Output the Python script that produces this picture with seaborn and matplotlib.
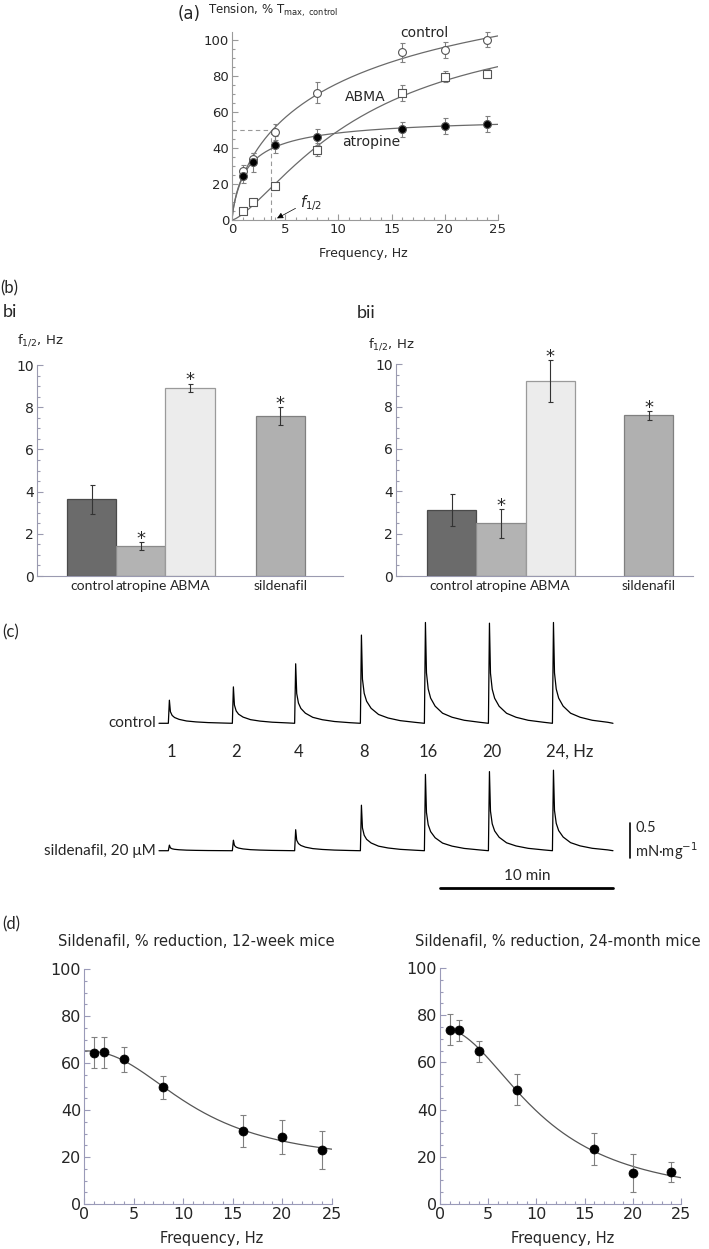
import numpy as np
import seaborn as sns
import matplotlib.pyplot as plt
from matplotlib.ticker import MultipleLocator, FixedLocator

W, H = 709, 1249

# (a) tension vs frequency, % of control max
FREQ = [1, 2, 4, 8, 16, 20, 24]
CONTROL = [27, 34, 48.8, 70.5, 93, 94.3, 100]
CONTROL_ERR = [3.5, 3, 4.6, 5.8, 5.2, 4.4, 4.2]
ABMA = [5.2, 9.8, 19, 39, 70.5, 79.6, 81]
ABMA_ERR = [1, 1.2, 1.5, 3.5, 4.3, 3, 2.5]
ATROPINE = [24.3, 31.9, 41.8, 46, 50.3, 52.1, 53.4]
ATROPINE_ERR = [4, 5.5, 4.6, 4.4, 4.2, 4.4, 4.4]
F_HALF = 3.65

# (b) f1/2 values
BAR_LABELS = ['control', 'atropine', 'ABMA', 'sildenafil']
BI_VALUES = [3.64, 1.41, 8.91, 7.59]
BI_ERR = [0.69, 0.2, 0.21, 0.41]
BII_VALUES = [3.10, 2.48, 9.20, 7.58]
BII_ERR = [0.76, 0.69, 1.0, 0.22]
BI_STAR = [False, True, True, True]
BII_STAR = [False, True, True, True]

# (c) contraction traces
TRAIN_LABELS = ['1', '2', '4', '8', '16', '20', '24, Hz']
TRAIN_ONSET = [0, 3.7, 7.3, 11.1, 14.8, 18.5, 22.2]          # min
CONTROL_PEAK = [0.33, 0.52, 0.85, 1.26, 1.44, 1.43, 1.44]     # mN/mg
SILD_PEAK = [0.08, 0.15, 0.30, 0.65, 1.09, 1.13, 1.15]
DECAY_T = [0, 0.06, 0.12, 0.22, 0.36, 0.62, 1.05, 1.6, 2.3, 3.2]
DECAY_F = [0, 1.0, 0.5, 0.34, 0.25, 0.17, 0.1, 0.06, 0.03, 0.01]

# (d) % reduction by sildenafil
RED_12W = [64.4, 64.5, 61.5, 49.6, 31.1, 28.4, 22.8]
RED_12W_ERR = [6.7, 6.5, 5.5, 4.9, 6.9, 7.3, 8.1]
RED_24M = [73.9, 73.6, 64.7, 48.4, 23.3, 13.1, 13.6]
RED_24M_ERR = [6.6, 4.5, 4.4, 6.6, 6.6, 8.2, 4.1]


def hill_rise(f, y):
    f = np.asarray(f, float)
    y = np.asarray(y, float)
    best = (np.inf, None)
    for k in np.linspace(0.2, 30, 299):
        for n in np.linspace(0.4, 3, 53):
            g = f ** n / (f ** n + k ** n)
            a = g @ y / (g @ g)
            err = np.sum((a * g - y) ** 2)
            if err < best[0]:
                best = (err, (a, k, n))
    a, k, n = best[1]
    return lambda x: a * x ** n / (x ** n + k ** n)


def hill_fall(f, y):
    f = np.asarray(f, float)
    y = np.asarray(y, float)
    best = (np.inf, None)
    for k in np.linspace(1, 30, 146):
        for n in np.linspace(0.5, 4, 36):
            g = 1 / (1 + (f / k) ** n)
            A = np.column_stack([1 - g, g])
            coef = np.linalg.lstsq(A, y, rcond=None)[0]
            err = np.sum((A @ coef - y) ** 2)
            if err < best[0]:
                best = (err, (coef, k, n))
    (bot, top), k, n = best[1]
    return lambda x: bot + (top - bot) / (1 + (x / k) ** n)


sns.set_style('ticks')
plt.rcParams['font.family'] = ['DejaVu Sans']
plt.rcParams['mathtext.fontset'] = 'dejavusans'
SANS2 = ['Lato', 'DejaVu Sans']

fig = plt.figure(figsize=(W / 100, H / 100), dpi=100)


def px_axes(l, t, r, b):
    return fig.add_axes([l / W, 1 - b / H, (r - l) / W, (b - t) / H])


def style_axes(ax, color, size):
    sns.despine(ax=ax)
    for s in ['left', 'bottom']:
        ax.spines[s].set_color(color)
        ax.spines[s].set_linewidth(0.8)
    ax.tick_params(which='both', direction='in', color=color, width=0.8,
                   labelsize=size, pad=2)
    ax.tick_params(which='major', length=4)
    ax.tick_params(which='minor', length=2)


# ---------------- (a)
ax = px_axes(232, 31.8, 498, 220)
fx = np.linspace(0, 25, 300)
series = [(CONTROL, CONTROL_ERR, 'o', 'white', 32),
          (ABMA, ABMA_ERR, 's', 'white', 28),
          (ATROPINE, ATROPINE_ERR, 'o', 'black', 32)]
ax.plot([0, F_HALF], [50, 50], ls=(0, (4, 3)), color='#999999', lw=0.8)
ax.plot([F_HALF, F_HALF], [0, 50], ls=(0, (4, 3)), color='#999999', lw=0.8)
for vals, errs, mk, face, sz in series:
    fit = hill_rise(FREQ, vals)
    sns.lineplot(x=fx, y=fit(fx), ax=ax, color='#6a6a6a', lw=0.9)
    ax.errorbar(FREQ, vals, yerr=errs, fmt='none', ecolor='#808080',
                elinewidth=0.8, capsize=1.8, capthick=0.8, clip_on=False)
    sns.scatterplot(x=FREQ, y=vals, marker=mk, s=sz, color=face,
                    edgecolor='#555555', linewidth=0.8, ax=ax, zorder=3,
                    clip_on=False)
ax.annotate('', xy=(4.0, 0.2), xytext=(6.2, 7.2),
            arrowprops=dict(arrowstyle='-|>', color='black', lw=0.5,
                            mutation_scale=9))
ax.text(6.4, 9.5, '$f_{1/2}$', fontsize=10.5, va='center')
ax.text(18.1, 104, 'control', fontsize=10, ha='center', va='center')
ax.text(12.5, 68, 'ABMA', fontsize=10, ha='center', va='center')
ax.text(13.1, 43, 'atropine', fontsize=10, ha='center', va='center')
ax.set_xlim(0, 25)
ax.set_ylim(0, 104.4)
ax.set_xticks(range(0, 26, 5))
ax.set_yticks(range(0, 101, 20))
ax.xaxis.set_minor_locator(MultipleLocator(1))
ax.yaxis.set_minor_locator(MultipleLocator(5))
style_axes(ax, '#9a9a9a', 9.5)
ax.set_xlabel('')
ax.set_ylabel('')
fig.text(363 / W, 1 - 254 / H, 'Frequency, Hz', fontsize=9, ha='center', va='center')
fig.text(178 / W, 1 - 14 / H, '(a)', fontsize=12, ha='left', va='center')
fig.text(208 / W, 1 - 10 / H, 'Tension, % T$_{\\mathrm{max,\\ control}}$',
         fontsize=8.5, ha='left', va='center')

# ---------------- (b)
BAR_COLORS = {'control': '#6b6b6b', 'atropine': '#b3b3b3',
              'ABMA': '#ececec', 'sildenafil': '#b0b0b0'}
BAR_EDGES = ['#4a4a4a', '#8a8a8a', '#9a9a9a', '#808080']


def bar_panel(rect, pos, values, errs, stars, xlim, ylim):
    ax = px_axes(*rect)
    sns.barplot(x=pos, y=values, hue=BAR_LABELS, palette=BAR_COLORS,
                native_scale=True, width=1, dodge=False, legend=False,
                saturation=1, linewidth=0.9, errorbar=None, ax=ax)
    for patch, ec in zip(ax.patches, BAR_EDGES):
        patch.set_edgecolor(ec)
    ax.errorbar(pos, values, yerr=errs, fmt='none', ecolor='#333333',
                elinewidth=0.8, capsize=1.8, capthick=0.8)
    for p, v, e, s in zip(pos, values, errs, stars):
        if s:
            ax.text(p, v + e + 0.15, '*', fontsize=13, ha='center', va='center')
    ax.set_xlim(*xlim)
    ax.set_ylim(*ylim)
    ax.set_xticks(pos)
    ax.set_xticklabels(BAR_LABELS, fontfamily=SANS2)
    ax.set_yticks(range(0, 11, 2))
    ax.yaxis.set_minor_locator(FixedLocator(np.arange(0, 10.01, 0.5)))
    style_axes(ax, '#9a9ab0', 10)
    ax.tick_params(axis='x', which='both', length=0, labelsize=10, pad=3)
    ax.spines['left'].set_bounds(0, 10)
    ax.set_xlabel('')
    ax.set_ylabel('')
    return ax


bar_panel((37, 354.5, 343, 576), [0, 1, 2, 3.84], BI_VALUES, BI_ERR, BI_STAR,
          (-1.12, 5.12), (0, 10.5))
bar_panel((396, 343, 693, 576), [0, 1, 2, 4.0], BII_VALUES, BII_ERR, BII_STAR,
          (-1.13, 4.9), (0, 11))
fig.text(0, 1 - 288 / H, '(b)', fontsize=12, ha='left', va='center', fontfamily=SANS2)
fig.text(3 / W, 1 - 312 / H, 'bi', fontsize=13, ha='left', va='center', fontfamily=SANS2)
fig.text(357 / W, 1 - 313 / H, 'bii', fontsize=13, ha='left', va='center', fontfamily=SANS2)
fig.text(17 / W, 1 - 340 / H, 'f$_{1/2}$, Hz', fontsize=9.5, ha='left', va='center')
fig.text(368 / W, 1 - 344 / H, 'f$_{1/2}$, Hz', fontsize=9.5, ha='left', va='center')

# ---------------- (c)
axc = px_axes(0, 600, 709, 900)
axc.axis('off')
axc.set_xlim(-9.73, 31.25)
axc.set_ylim(-2.524, 1.761)


def trace(peaks, base):
    t, y = [-0.54], [base]
    for on, pk in zip(TRAIN_ONSET, peaks):
        t += [on + d for d in DECAY_T]
        y += [base + pk * f for f in DECAY_F]
    t.append(25.7)
    y.append(base)
    return t, y


for peaks, base, name in [(CONTROL_PEAK, 0.0, 'control'),
                          (SILD_PEAK, -1.82, 'sildenafil, 20 \u03bcM')]:
    t, y = trace(peaks, base)
    sns.lineplot(x=t, y=y, sort=False, estimator=None, color='black',
                 lw=0.9, ax=axc)
    axc.text(-0.7, base, name, ha='right', va='center', fontsize=11,
             fontfamily=SANS2)
for on, lab in zip(TRAIN_ONSET, TRAIN_LABELS):
    if lab.endswith('Hz'):
        axc.text(on - 0.4, -0.406, lab, ha='left', va='center', fontsize=12,
                 fontfamily=SANS2)
    else:
        axc.text(on + 0.2, -0.406, lab, ha='center', va='center', fontsize=12,
                 fontfamily=SANS2)
axc.plot([26.7, 26.7], [-1.924, -1.424], color='black', lw=1.2)
axc.text(27.0, -1.50, '0.5', ha='left', va='center', fontsize=10.5, fontfamily=SANS2)
axc.text(27.0, -1.83, 'mN\u00b7mg$^{-1}$', ha='left', va='center', fontsize=10.5,
         fontfamily=SANS2)
axc.plot([15.72, 25.72], [-2.353, -2.353], color='black', lw=2)
axc.text(20.72, -2.18, '10 min', ha='center', va='center', fontsize=11,
         fontfamily=SANS2)
fig.text(2 / W, 1 - 632 / H, '(c)', fontsize=12, ha='left', va='center', fontfamily=SANS2)

# ---------------- (d)
dx = np.linspace(0, 25, 300)
panels_d = [((84, 969, 332, 1204), RED_12W, RED_12W_ERR, 0.0,
             'Sildenafil, % reduction, 12-week mice', 196, 212),
            ((440, 968, 681, 1204), RED_24M, RED_24M_ERR, 1.8,
             'Sildenafil, % reduction, 24-month mice', 558, 563)]
for rect, vals, errs, x0, title, tx, lx in panels_d:
    ax = px_axes(*rect)
    fit = hill_fall(FREQ, vals)
    xs = dx[dx >= x0]
    sns.lineplot(x=xs, y=fit(xs), ax=ax, color='#555555', lw=0.9)
    ax.errorbar(FREQ, vals, yerr=errs, fmt='none', ecolor='#808080',
                elinewidth=0.8, capsize=2, capthick=0.8)
    sns.scatterplot(x=FREQ, y=vals, s=42, color='black', edgecolor='black',
                    ax=ax, zorder=3)
    ax.set_xlim(0, 25)
    ax.set_ylim(0, 100)
    ax.set_xticks(range(0, 26, 5))
    ax.set_yticks(range(0, 101, 20))
    ax.xaxis.set_minor_locator(MultipleLocator(1))
    ax.yaxis.set_minor_locator(MultipleLocator(5))
    style_axes(ax, '#9a9ab8', 11.5)
    ax.set_xlabel('')
    ax.set_ylabel('')
    fig.text(tx / W, 1 - 941 / H, title, fontsize=10.5, ha='center', va='center')
    fig.text(lx / W, 1 - 1238 / H, 'Frequency, Hz', fontsize=10.5, ha='center',
             va='center')
fig.text(2 / W, 1 - 924 / H, '(d)', fontsize=12, ha='left', va='center', fontfamily=SANS2)

fig.savefig('out.png', dpi=100)
